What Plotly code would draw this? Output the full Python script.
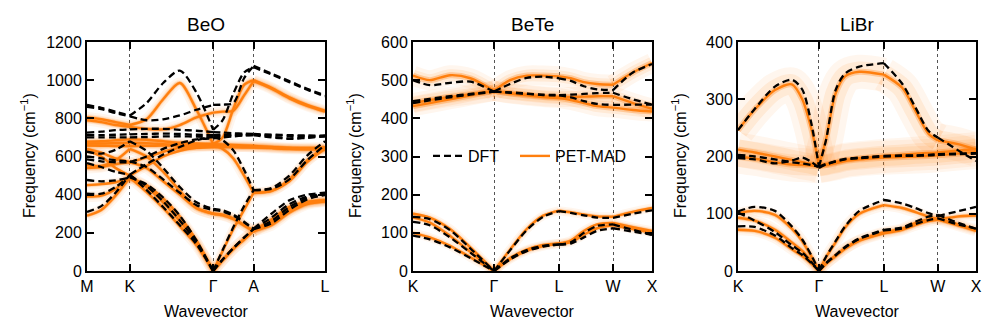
import plotly.graph_objects as go
from plotly.subplots import make_subplots

# ---------------- BeO : M-K-Γ-A-L ----------------
BEO_LABELS = ['M', 'K', 'Γ', 'A', 'L']
BEO_TICKS = [0, 0.18, 0.53, 0.70, 1.0]
BEO_Q = [
    [0, 0.06, 0.12, 0.18],
    [0.18, 0.25, 0.32, 0.39, 0.46, 0.53],
    [0.53, 0.57, 0.615, 0.66, 0.70],
    [0.70, 0.775, 0.85, 0.925, 1.0],
]
BEO_DFT = [
    [870, 855, 835, 815, 815, 880, 985, 1050, 935, 740, 740, 790, 930, 1040, 1068, 1068, 1030, 990, 950, 915],
    [860, 848, 828, 810, 810, 790, 795, 815, 845, 870, 870, 872, 880, 1010, 1075, 1075, 1035, 995, 955, 920],
    [725, 730, 738, 742, 742, 745, 745, 740, 735, 728, 728, 725, 722, 720, 718, 718, 712, 708, 706, 705],
    [712, 712, 714, 716, 716, 718, 720, 718, 714, 712, 712, 712, 714, 716, 716, 716, 705, 692, 698, 705],
    [700, 700, 700, 700, 700, 702, 705, 706, 704, 700, 700, 685, 632, 530, 424, 424, 435, 500, 605, 680],
    [625, 615, 635, 680, 680, 630, 540, 440, 360, 325, 325, 318, 295, 258, 222, 222, 300, 370, 400, 410],
    [600, 590, 580, 575, 575, 545, 480, 410, 345, 320, 320, 312, 290, 255, 220, 220, 280, 350, 390, 402],
    [310, 340, 410, 505, 505, 425, 335, 240, 140, 0, 0, 60, 120, 175, 220, 220, 250, 320, 375, 398],
    [406, 405, 440, 500, 500, 445, 365, 265, 150, 0, 0, 60, 120, 175, 220, 220, 262, 335, 382, 400],
    [477, 470, 475, 490, 490, 455, 385, 290, 160, 0, 0, 110, 230, 340, 424, 424, 430, 480, 580, 660],
    [585, 575, 570, 570, 570, 600, 640, 670, 690, 695, 695, 700, 705, 710, 712, 712, 700, 695, 700, 708],
    [565, 545, 520, 505, 505, 560, 610, 650, 685, 705, 705, 708, 710, 712, 712, 712, 715, 712, 710, 710],
]
BEO_PET = [
    [805, 795, 780, 765, 765, 795, 900, 985, 845, 665, 665, 700, 850, 975, 1000, 1000, 960, 910, 870, 840],
    [790, 780, 765, 755, 755, 745, 742, 765, 805, 830, 830, 835, 840, 920, 995, 995, 955, 905, 865, 835],
    [678, 680, 685, 690, 690, 688, 680, 672, 668, 665, 665, 663, 660, 658, 656, 656, 650, 645, 645, 648],
    [668, 668, 670, 672, 672, 670, 665, 660, 658, 658, 658, 656, 654, 652, 650, 650, 645, 640, 640, 642],
    [658, 656, 655, 655, 655, 656, 657, 658, 658, 658, 658, 640, 590, 500, 410, 410, 420, 480, 580, 650],
    [555, 550, 580, 640, 640, 600, 520, 420, 330, 300, 300, 295, 275, 240, 210, 210, 270, 335, 362, 370],
    [540, 545, 560, 570, 570, 540, 470, 400, 330, 300, 300, 292, 272, 238, 208, 208, 262, 325, 358, 368],
    [290, 320, 395, 490, 490, 415, 330, 235, 135, 0, 0, 55, 115, 165, 210, 210, 240, 305, 350, 365],
    [390, 395, 430, 495, 495, 440, 360, 262, 148, 0, 0, 58, 118, 168, 212, 212, 250, 315, 355, 368],
    [450, 455, 465, 485, 485, 450, 380, 285, 160, 0, 0, 105, 220, 320, 410, 410, 420, 470, 570, 640],
    [640, 620, 590, 570, 570, 595, 625, 645, 650, 652, 652, 652, 650, 650, 650, 650, 645, 640, 638, 640],
    [632, 600, 540, 500, 500, 550, 600, 630, 645, 650, 650, 650, 650, 648, 648, 648, 648, 645, 640, 638],
]

# ---------------- BeTe : K-Γ-L-W-X ----------------
BETE_LABELS = ['K', 'Γ', 'L', 'W', 'X']
BETE_TICKS = [0, 0.339, 0.611, 0.837, 1.0]
BETE_Q = [
    [0, 0.07, 0.155, 0.24, 0.339],
    [0.339, 0.406, 0.476, 0.545, 0.611],
    [0.611, 0.66, 0.715, 0.77, 0.837],
    [0.837, 0.92, 1.0],
]
BETE_DFT = [
    [500, 487, 493, 496, 470, 470, 490, 506, 509, 505, 505, 498, 484, 476, 474, 474, 520, 542],
    [445, 451, 458, 464, 470, 470, 468, 465, 462, 461, 461, 462, 464, 466, 467, 467, 450, 436],
    [440, 447, 455, 462, 470, 470, 467, 464, 461, 460, 460, 455, 445, 438, 435, 435, 436, 436],
    [142, 136, 107, 59, 0, 0, 54, 107, 142, 157, 157, 152, 146, 140, 139, 139, 150, 159],
    [129, 120, 88, 48, 0, 0, 33, 55, 66, 70, 70, 75, 100, 118, 122, 122, 108, 95],
    [93, 83, 62, 34, 0, 0, 30, 52, 64, 69, 69, 72, 88, 105, 112, 112, 103, 95],
]
BETE_PET = [
    [512, 500, 513, 505, 472, 472, 500, 512, 512, 510, 510, 505, 495, 490, 488, 488, 520, 545],
    [440, 448, 456, 463, 472, 472, 466, 462, 458, 456, 456, 456, 457, 458, 458, 458, 440, 425],
    [432, 440, 450, 460, 472, 472, 465, 460, 456, 453, 453, 448, 440, 432, 428, 428, 422, 418],
    [150, 140, 110, 62, 0, 0, 56, 110, 145, 158, 158, 154, 148, 143, 142, 142, 155, 165],
    [140, 127, 92, 50, 0, 0, 34, 56, 68, 72, 72, 80, 105, 122, 126, 126, 115, 105],
    [100, 88, 66, 36, 0, 0, 31, 53, 65, 72, 72, 76, 95, 112, 120, 120, 110, 100],
]

# ---------------- LiBr : K-Γ-L-W-X ----------------
LIBR_LABELS = ['K', 'Γ', 'L', 'W', 'X']
LIBR_TICKS = [0, 0.34, 0.613, 0.84, 1.0]
LIBR_Q = [
    [0, 0.07, 0.155, 0.226, 0.27, 0.31, 0.34],
    [0.34, 0.37, 0.41, 0.45, 0.51, 0.613],
    [0.613, 0.69, 0.745, 0.80, 0.84],
    [0.84, 0.92, 1.0],
]
LIBR_DFT = [
    [246, 283, 322, 334, 317, 254, 182, 182, 229, 316, 345, 357, 363, 363, 327, 286, 245, 233, 233, 212, 192],
    [203, 200, 195, 190, 188, 185, 182, 182, 187, 192, 196, 198, 201, 201, 202, 202, 203, 204, 204, 205, 206],
    [197, 195, 188, 193, 198, 190, 180, 180, 186, 191, 195, 197, 200, 200, 201, 201, 202, 203, 203, 204, 205],
    [104, 112, 105, 78, 55, 26, 0, 0, 25, 52, 78, 105, 124, 124, 118, 110, 101, 96, 96, 104, 112],
    [102, 88, 68, 45, 32, 15, 0, 0, 14, 28, 42, 57, 72, 72, 76, 86, 95, 98, 98, 85, 74],
    [78, 77, 62, 40, 28, 13, 0, 0, 13, 27, 41, 56, 71, 71, 74, 82, 89, 92, 92, 82, 74],
]
LIBR_PET = [
    [246, 282, 316, 326, 300, 245, 185, 185, 230, 310, 340, 348, 343, 343, 320, 280, 240, 228, 228, 222, 212],
    [212, 207, 200, 194, 190, 187, 184, 184, 186, 190, 194, 197, 201, 201, 203, 205, 206, 207, 207, 210, 213],
    [200, 196, 190, 186, 185, 184, 183, 183, 185, 188, 192, 195, 198, 198, 199, 200, 201, 202, 202, 205, 208],
    [101, 105, 98, 74, 52, 24, 0, 0, 24, 50, 76, 100, 115, 115, 110, 103, 95, 90, 90, 95, 97],
    [93, 88, 72, 50, 35, 16, 0, 0, 13, 27, 40, 54, 68, 68, 74, 84, 90, 92, 92, 82, 72],
    [72, 70, 58, 38, 26, 12, 0, 0, 13, 26, 39, 53, 66, 66, 72, 80, 87, 90, 90, 80, 70],
]

ORANGE = '#ff7f0e'
FONT = 'Liberation Sans, Arial, Helvetica, sans-serif'
# the page body has an 8px margin, so the figure is drawn 8px in from the window edge
OFF = 8
W, H = 997 - 2 * OFF, 335 - 2 * OFF

# name, path, ticks, labels, dft, pet, ymax, dtick, halo width (optical, acoustic)
panels = [
    ('BeO', BEO_Q, BEO_TICKS, BEO_LABELS, BEO_DFT, BEO_PET, 1200, 200, (11, 9)),
    ('BeTe', BETE_Q, BETE_TICKS, BETE_LABELS, BETE_DFT, BETE_PET, 600, 100, (20, 9)),
    ('LiBr', LIBR_Q, LIBR_TICKS, LIBR_LABELS, LIBR_DFT, LIBR_PET, 400, 100, (34, 11)),
]
# window pixel positions of the plot frames
x_px = [(87, 325), (413, 652), (738, 976)]
y_px = (42, 271)


def px(x):
    return (x - OFF) / W


def py(y):
    return 1 - (y - OFF) / H


def split_path(q, band):
    xs, ys, i = [], [], 0
    for seg in q:
        xs += seg + [None]
        ys += band[i:i + len(seg)] + [None]
        i += len(seg)
    return xs, ys


fig = make_subplots(rows=1, cols=3)
annotations = []
for c, (name, q, ticks, labels, dft, pet, ymax, dtick, halo) in enumerate(panels, start=1):
    n_opt = 3 if len(pet) == 6 else 9
    # PET-MAD ensemble spread (faint) + mean line
    for b, band in enumerate(pet):
        xs, ys = split_path(q, band)
        hw = halo[0] if b < n_opt else halo[1]
        for width, alpha in ((hw, 0.07), (hw * 0.6, 0.1), (min(hw * 0.35, 6), 0.3)):
            fig.add_trace(go.Scatter(
                x=xs, y=ys, mode='lines', line=dict(color=f'rgba(255,127,14,{alpha})', width=width, shape='spline', smoothing=0.8),
                hoverinfo='skip', showlegend=False), row=1, col=c)
    for b, band in enumerate(pet):
        xs, ys = split_path(q, band)
        fig.add_trace(go.Scatter(
            x=xs, y=ys, mode='lines', name='PET-MAD', legend='legend2',
            line=dict(color=ORANGE, width=2.4, shape='spline', smoothing=0.8),
            showlegend=(c == 2 and b == 0)), row=1, col=c)
    for b, band in enumerate(dft):
        xs, ys = split_path(q, band)
        fig.add_trace(go.Scatter(
            x=xs, y=ys, mode='lines', name='DFT', legend='legend',
            line=dict(color='black', width=2.3, dash='7px,4px', shape='spline', smoothing=0.8),
            showlegend=(c == 2 and b == 0)), row=1, col=c)

    x0, x1 = x_px[c - 1]
    axis_common = dict(ticks='inside', ticklen=7, tickwidth=1.5, tickcolor='black', automargin=False,
                       showline=True, linewidth=2, linecolor='black', mirror='ticks',
                       zeroline=False, tickfont=dict(size=16, color='black', family=FONT))
    fig.update_xaxes(domain=[px(x0), px(x1)], range=[0, 1], tickmode='array', tickvals=ticks, ticktext=labels,
                     showgrid=True, gridcolor='#555555', gridwidth=1, griddash='dot',
                     row=1, col=c, **axis_common)
    fig.update_yaxes(domain=[py(y_px[1]), py(y_px[0])], range=[0, ymax], dtick=dtick, showgrid=False,
                     row=1, col=c, **axis_common)

    cx = px((x0 + x1) / 2)
    annotations.append(dict(text=name, x=cx, y=py(25), xref='paper', yref='paper',
                            xanchor='center', yanchor='middle', showarrow=False,
                            font=dict(size=19, color='black', family=FONT)))
    annotations.append(dict(text='Wavevector', x=cx, y=py(311), xref='paper', yref='paper',
                            xanchor='center', yanchor='middle', showarrow=False,
                            font=dict(size=16, color='black', family=FONT)))
    annotations.append(dict(text='Frequency (cm<sup>−1</sup>)', x=px(x0 - 59), y=py(156),
                            xref='paper', yref='paper', xanchor='center', yanchor='middle',
                            textangle=-90, showarrow=False,
                            font=dict(size=16, color='black', family=FONT)))

legend_style = dict(orientation='h', yanchor='middle', xanchor='left', bgcolor='rgba(0,0,0,0)',
                    font=dict(size=16, color='black', family=FONT), itemwidth=30)
fig.update_layout(
    width=W, height=H, margin=dict(l=0, r=0, t=0, b=0, autoexpand=False),
    plot_bgcolor='white', paper_bgcolor='white',
    font=dict(family=FONT, color='black', size=16),
    annotations=annotations,
    legend=dict(x=px(428), y=py(156), **legend_style),
    legend2=dict(x=px(515), y=py(156), **legend_style),
    hovermode=False,
)

fig.write_html("out.html")
